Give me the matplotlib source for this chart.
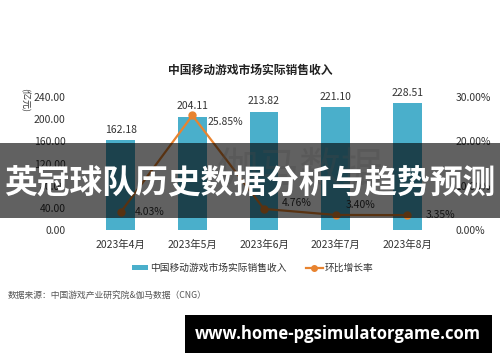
import matplotlib
matplotlib.use("Agg")
import matplotlib.pyplot as plt
from matplotlib.patches import Rectangle, Patch
from matplotlib.lines import Line2D

plt.rcParams['font.family'] = ['Noto Sans CJK SC', 'DejaVu Sans']

months = ["2023年4月", "2023年5月", "2023年6月", "2023年7月", "2023年8月"]
revenue = [162.18, 204.11, 213.82, 221.10, 228.51]
growth = [4.03, 25.85, 4.76, 3.40, 3.35]
left_ticks = [0, 40, 80, 120, 160, 200, 240]
right_ticks = [0, 10, 20, 30]

title = "中国移动游戏市场实际销售收入"
bar_label = "中国移动游戏市场实际销售收入"
line_label = "环比增长率"
unit = "(亿元)"
source = "数据来源：中国游戏产业研究院&伽马数据（CNG）"
banner = "英冠球队历史数据分析与趋势预测"
url = "www.home-pgsimulatorgame.com"

BLUE = "#4aafcb"
ORANGE = "#e8832f"
TXT = "#333333"

fig = plt.figure(figsize=(5, 3.62), dpi=100)
fig.patch.set_facecolor("white")
ax = fig.add_axes([0.17, 0.3646, 0.716, 0.3674])
ax2 = ax.twinx()

x = list(range(len(months)))
ax.bar(x, revenue, width=0.4, color=BLUE, zorder=2)
ax.set_xlim(-0.5, len(months) - 0.5)
ax.set_ylim(0, 240)
ax.set_yticks(left_ticks)
ax.set_yticklabels([f"{v:.2f}" for v in left_ticks])
ax.set_xticks(x)
ax.set_xticklabels(months)
for a in (ax, ax2):
    for s in a.spines.values():
        s.set_visible(False)
    a.tick_params(length=0, labelsize=7.5, colors=TXT)
ax.tick_params(axis='x', pad=7)
ax.tick_params(axis='y', pad=14)

for xi, v in zip(x, revenue):
    ax.annotate(f"{v:.2f}", (xi, v), xytext=(0, 4), textcoords="offset points",
                ha="center", va="bottom", fontsize=7.5, color=TXT)

ax2.plot(x, growth, color=ORANGE, lw=1.6, marker="o", ms=5, zorder=3)
ax2.set_ylim(0, 30)
ax2.set_yticks(right_ticks)
ax2.set_yticklabels([f"{v:.2f}%" for v in right_ticks])
ax2.tick_params(axis='y', pad=9)

pct_offsets = [(10, 0), (11, -5), (13, 4), (7, 7), (13, 0)]
for xi, v, off in zip(x, growth, pct_offsets):
    ax2.annotate(f"{v:.2f}%", (xi, v), xytext=off, textcoords="offset points",
                 ha="left", va="center", fontsize=7.5, color=TXT)

fig.text(0.5, 1 - 70 / 362, title, ha="center", va="center", fontsize=8.5,
         fontweight="bold", color="#222222")
fig.text(0.05, 1 - 100 / 362, unit, ha="center", va="center", fontsize=6.5,
         rotation=270, color=TXT)

# watermark
fig.text(0.6, 1 - 170 / 362, "伽马数据", ha="center", va="center", fontsize=30,
         color="#bbbbbb", alpha=0.3, zorder=0)

handles = [Patch(facecolor=BLUE, edgecolor="none"),
           Line2D([0], [0], color=ORANGE, lw=1.6, marker="o", ms=4)]
fig.legend(handles, [bar_label, line_label], loc="center",
           bbox_to_anchor=(0.505, 1 - 268 / 362), ncol=2, frameon=False,
           fontsize=7, handlelength=1.7, handleheight=0.5, columnspacing=2.0,
           handletextpad=0.2, labelcolor=TXT)

fig.text(0.016, 1 - 295 / 362, source, ha="left", va="center", fontsize=6.3,
         color="#555555")

# banner overlay
fig.add_artist(Rectangle((0, 1 - 218 / 362), 1, 75 / 362, transform=fig.transFigure,
                         facecolor="black", alpha=0.62, edgecolor="none", zorder=10))
fig.text(0.5, 1 - 184 / 362, banner, ha="center", va="center", fontsize=23.6,
         fontweight="bold", color="white", zorder=11)

# url box
fig.add_artist(Rectangle((185 / 500, 1 - 353 / 362), 307 / 500, 38 / 362,
                         transform=fig.transFigure, facecolor="black",
                         edgecolor="none", zorder=10))
fig.text(338 / 500, 1 - 334 / 362, url, ha="center", va="center", fontsize=12,
         fontweight="bold", color="white", family=["Open Sans", "DejaVu Sans"], zorder=11)

fig.savefig("out.png", dpi=100)
